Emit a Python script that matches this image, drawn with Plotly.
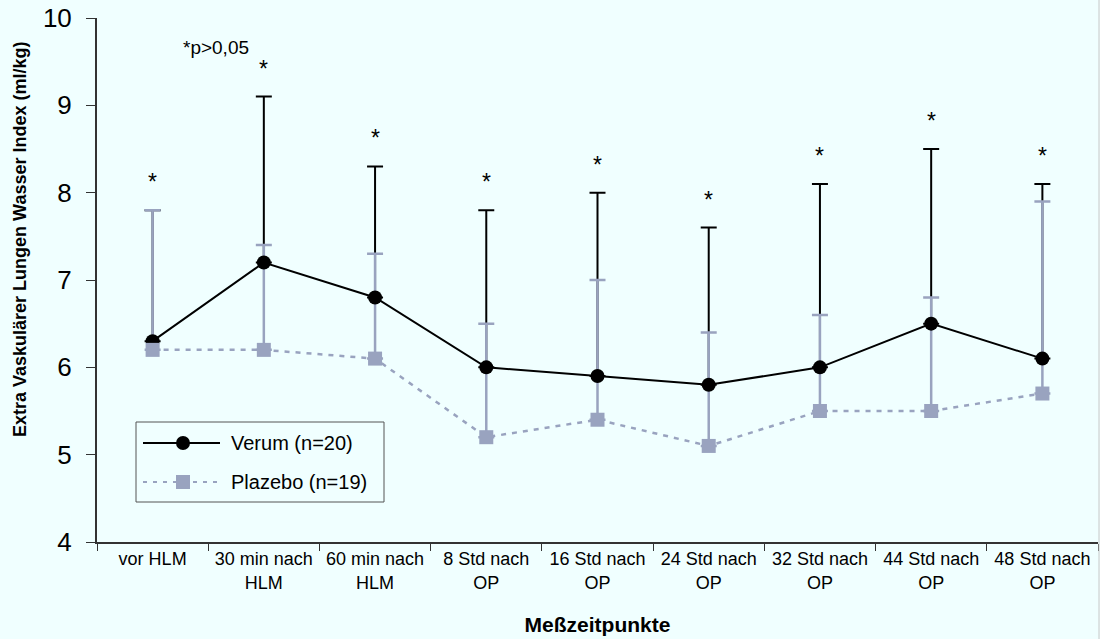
import plotly.graph_objects as go

# Measurement time points (two-line tick labels)
categories = ["vor HLM", "30 min nach<br>HLM", "60 min nach<br>HLM", "8 Std nach<br>OP",
              "16 Std nach<br>OP", "24 Std nach<br>OP", "32 Std nach<br>OP",
              "44 Std nach<br>OP", "48 Std nach<br>OP"]

# Mean EVLWI values (ml/kg)
verum_mean = [6.3, 7.2, 6.8, 6.0, 5.9, 5.8, 6.0, 6.5, 6.1]
plazebo_mean = [6.2, 6.2, 6.1, 5.2, 5.4, 5.1, 5.5, 5.5, 5.7]

# Upper end of the error bars (mean + SD)
verum_upper = [7.8, 9.1, 8.3, 7.8, 8.0, 7.6, 8.1, 8.5, 8.1]
plazebo_upper = [7.8, 7.4, 7.3, 6.5, 7.0, 6.4, 6.6, 6.8, 7.9]

series_names = ["Verum (n=20)", "Plazebo (n=19)"]

verum_err = [u - m for u, m in zip(verum_upper, verum_mean)]
plazebo_err = [u - m for u, m in zip(plazebo_upper, plazebo_mean)]

BG = "#F0FFFF"
GRAY = "#99A3BF"
AXIS = "#333333"
FONT = "Liberation Sans, Arial, sans-serif"

W, H = 1100, 639
ML, MR, MT, MB = 97, 2, 18, 97
PW, PH = W - ML - MR, H - MT - MB


def px_x(p):
    """Pixel x -> paper x."""
    return (p - ML) / PW


def px_y(p):
    """Pixel y (from top) -> paper y."""
    return (H - MB - p) / PH


fig = go.Figure()

# Error bars first so the lines and markers sit on top
fig.add_trace(go.Scatter(
    x=categories, y=verum_mean, mode="markers", marker=dict(size=0.1, color="rgba(0,0,0,0)"),
    error_y=dict(type="data", array=verum_err, arrayminus=[0] * len(verum_err),
                 symmetric=False, color="black", thickness=2, width=8),
    showlegend=False, hoverinfo="skip"))
fig.add_trace(go.Scatter(
    x=categories, y=plazebo_mean, mode="markers", marker=dict(size=0.1, color="rgba(0,0,0,0)"),
    error_y=dict(type="data", array=plazebo_err, arrayminus=[0] * len(plazebo_err),
                 symmetric=False, color=GRAY, thickness=2.5, width=8),
    showlegend=False, hoverinfo="skip"))

fig.add_trace(go.Scatter(
    x=categories, y=verum_mean, mode="lines+markers", name=series_names[0],
    line=dict(color="black", width=2),
    marker=dict(symbol="circle", size=14, color="black"), showlegend=False))
fig.add_trace(go.Scatter(
    x=categories, y=plazebo_mean, mode="lines+markers", name=series_names[1],
    line=dict(color=GRAY, width=2.5, dash="5px,6px"),
    marker=dict(symbol="square", size=14, color=GRAY), showlegend=False))

# Significance asterisks above the Verum error bars
for cat, top in zip(categories, verum_upper):
    fig.add_annotation(x=cat, y=top, text="*", showarrow=False, yshift=28,
                       font=dict(size=23, color="black", family=FONT))

fig.add_annotation(x=0.57, y=9.66, text="*p>0,05", showarrow=False,
                   font=dict(size=19, color="black", family=FONT))

# Y axis title, placed a little above the axis centre
fig.add_annotation(xref="paper", yref="paper", x=px_x(20), y=px_y(240),
                   text="<b>Extra Vaskulärer Lungen Wasser Index (ml/kg)</b>",
                   textangle=-90, showarrow=False, xanchor="center", yanchor="middle",
                   font=dict(size=18, color="black", family=FONT))

# Legend box drawn by hand (long sample lines)
shapes = [
    dict(type="rect", xref="paper", yref="paper",
         x0=px_x(136), x1=px_x(384), y0=px_y(502), y1=px_y(422),
         line=dict(color="#555555", width=1), fillcolor=BG, layer="above"),
    dict(type="line", xref="paper", yref="paper",
         x0=px_x(143), x1=px_x(220), y0=px_y(443), y1=px_y(443),
         line=dict(color="black", width=2), layer="above"),
    dict(type="circle", xref="paper", yref="paper",
         x0=px_x(176), x1=px_x(190), y0=px_y(450), y1=px_y(436),
         line=dict(color="black", width=0), fillcolor="black", layer="above"),
    dict(type="line", xref="paper", yref="paper",
         x0=px_x(143), x1=px_x(220), y0=px_y(482), y1=px_y(482),
         line=dict(color=GRAY, width=2, dash="4px,6px"), layer="above"),
    dict(type="rect", xref="paper", yref="paper",
         x0=px_x(176), x1=px_x(190), y0=px_y(489), y1=px_y(475),
         line=dict(color=GRAY, width=0), fillcolor=GRAY, layer="above"),
    # thin frame edge on the right
    dict(type="line", xref="paper", yref="paper",
         x0=px_x(W - 1), x1=px_x(W - 1), y0=px_y(H), y1=px_y(0),
         line=dict(color="#C8C8C8", width=1), layer="above"),
]
for name, yy in zip(series_names, [443, 482]):
    fig.add_annotation(xref="paper", yref="paper", x=px_x(229), y=px_y(yy),
                       xanchor="left", yanchor="middle", text=name, showarrow=False,
                       font=dict(size=20, color="black", family=FONT))

fig.update_layout(
    width=W, height=H,
    margin=dict(l=ML, r=MR, t=MT, b=MB),
    paper_bgcolor=BG, plot_bgcolor=BG,
    font=dict(family=FONT, color="black"),
    showlegend=False,
    shapes=shapes,
    xaxis=dict(
        type="category", tickson="boundaries", ticks="outside", ticklen=7,
        tickcolor=AXIS, showline=True, linecolor=AXIS, linewidth=1.5,
        showgrid=False, tickfont=dict(size=18, family=FONT),
        title=dict(text="<b>Meßzeitpunkte</b>", font=dict(size=21, family=FONT), standoff=26),
        range=[-0.5, 8.5]),
    yaxis=dict(
        range=[4, 10], dtick=1, ticks="outside", ticklen=9, tickcolor=AXIS,
        ticklabelstandoff=9,
        showline=True, linecolor=AXIS, linewidth=2, showgrid=False, zeroline=False,
        tickfont=dict(size=26, family=FONT)),
)

fig.write_html("out.html")
